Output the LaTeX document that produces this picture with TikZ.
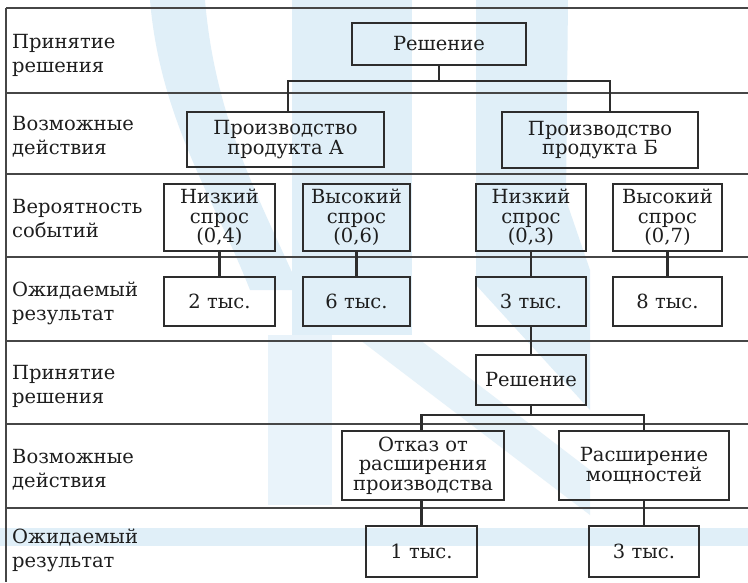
\documentclass[tikz,border=0pt]{standalone}
\usepackage{fontspec}
\setmainfont{DejaVu Serif}
\definecolor{inkcol}{RGB}{45,45,45}
\definecolor{textcol}{RGB}{30,30,30}
\definecolor{rulecol}{RGB}{70,70,70}
\definecolor{emblem}{RGB}{224,239,248}
\begin{document}
\begin{tikzpicture}[x=1pt,y=-1pt,
  ink/.style={draw=inkcol, line width=2.6pt},
  box/.style={ink, inner sep=0pt, align=center, text=textcol,
    font=\fontsize{19.5}{19.5}\selectfont},
  rowlabel/.style={anchor=west, inner sep=0pt, align=left, text=textcol,
    font=\fontsize{19.5}{24}\selectfont},
  rule/.style={draw=rulecol, line width=1.1pt},
  link/.style={draw=inkcol, line width=2.3pt},
  wm/.style={fill=emblem, draw=none}]
\useasboundingbox (0,0) rectangle (748,582);
\fill[white] (0,0) rectangle (748,582);

% faint background emblem
\fill[wm] (150,0) -- (205,0) .. controls (215,120) and (260,200) .. (300,290)
  -- (250,290) .. controls (215,200) and (160,120) .. (150,0) -- cycle;
\fill[wm] (292,0) rectangle (412,335);
\fill[wm, opacity=0.7] (268,335) rectangle (332,505);
\fill[wm] (476,0) -- (568,0) -- (566,200) -- (590,270) -- (590,410) -- (476,285) -- cycle;
\fill[wm, opacity=0.8] (360,340) -- (420,340) -- (590,470) -- (590,515) -- cycle;
\fill[wm] (0,528) rectangle (748,546);

% table grid
\foreach \yy in {8,93,174,257,341,424,508}
  \draw[rule] (6,\yy) -- (748,\yy);
\draw[rule] (6,8) -- (6,582);

% row captions
\node[rowlabel] (l1) at (12,55) {Принятие\\решения};
\node[rowlabel] (l2) at (12,137) {Возможные\\действия};
\node[rowlabel] (l3) at (12,219) {Вероятность\\событий};
\node[rowlabel] (l4) at (12,303) {Ожидаемый\\результат};
\node[rowlabel] (l5) at (12,386) {Принятие\\решения};
\node[rowlabel] (l6) at (12,470) {Возможные\\действия};
\node[rowlabel] (l7) at (12,550) {Ожидаемый\\результат};

% first decision
\node[box, minimum width=174, minimum height=42] (dec1) at (439,44) {Решение};
\node[box, minimum width=197, minimum height=55] (prodA) at (285.5,139.5) {Производство\\продукта А};
\node[box, minimum width=196, minimum height=56] (prodB) at (600,140) {Производство\\продукта Б};

% demand probabilities
\node[box, minimum width=111, minimum height=67] (p1) at (219.5,217.5) {Низкий\\спрос\\(0,4)};
\node[box, minimum width=107, minimum height=67] (p2) at (356.5,217.5) {Высокий\\спрос\\(0,6)};
\node[box, minimum width=110, minimum height=67] (p3) at (531,217.5) {Низкий\\спрос\\(0,3)};
\node[box, minimum width=109, minimum height=67] (p4) at (667.5,217.5) {Высокий\\спрос\\(0,7)};

% expected results
\node[box, minimum width=111, minimum height=49] (r1) at (219.5,301.5) {2 тыс.};
\node[box, minimum width=107, minimum height=49] (r2) at (356.5,301.5) {6 тыс.};
\node[box, minimum width=110, minimum height=49] (r3) at (531,301.5) {3 тыс.};
\node[box, minimum width=109, minimum height=49] (r4) at (667.5,301.5) {8 тыс.};

% second decision
\node[box, minimum width=110, minimum height=50] (dec2) at (531,380) {Решение};
\node[box, minimum width=162, minimum height=69] (act1) at (423,465.5) {Отказ от\\расширения\\производства};
\node[box, minimum width=170, minimum height=69] (act2) at (644,465.5) {Расширение\\мощностей};
\node[box, minimum width=111, minimum height=51] (res1) at (421.5,551.5) {1 тыс.};
\node[box, minimum width=110, minimum height=51] (res2) at (644,551.5) {3 тыс.};

% connectors
\coordinate (j1) at (439,81);
\draw[link] (dec1.south) -- (j1);
\draw[link] (j1) -| ([xshift=2.5pt]prodA.north);
\draw[link] (j1) -| ([xshift=10pt]prodB.north);
\draw[link] (p1) -- (r1);
\draw[link] (p2) -- (r2);
\draw[link] (p3) -- (r3);
\draw[link] (p4) -- (r4);
\draw[link] (r3) -- (dec2);
\coordinate (j2) at (531,415);
\draw[link] (dec2.south) -- (j2);
\draw[link] (j2) -| (act1.north -| res1.north);
\draw[link] (j2) -| (act2.north);
\draw[link] (act1.south -| res1.north) -- (res1.north);
\draw[link] (act2) -- (res2);
\end{tikzpicture}
\end{document}
